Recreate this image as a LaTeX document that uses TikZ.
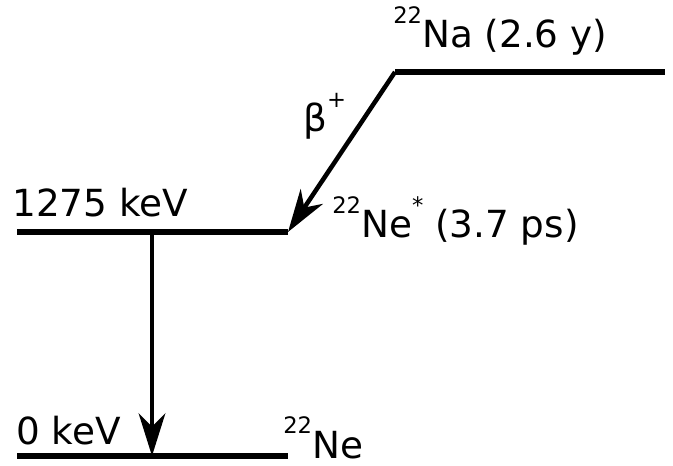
\documentclass[tikz,border=0pt]{standalone}
\usepackage{fontspec}
\setmainfont{DejaVu Sans}
\usetikzlibrary{arrows.meta}

\newcommand{\sups}[1]{\raisebox{0.66em}{\fontsize{17}{17}\selectfont #1}}

\begin{document}
\begin{tikzpicture}[x=0.75pt, y=-0.75pt,
    level/.style={line width=4.5pt},
    trans/.style={line width=3.4pt, -{Stealth[length=32pt, width=20pt, inset=10pt]}},
    lbl/.style={anchor=base west, inner sep=0pt, font=\fontsize{28}{33}\selectfont}]
    \useasboundingbox (0,0) rectangle (673,466);
    % level ends
    \coordinate (naL) at (395,72);
    \coordinate (naR) at (665,72);
    \coordinate (exL) at (17,232);
    \coordinate (exR) at (288,232);
    \coordinate (gsL) at (17,456);
    \coordinate (gsR) at (288,456);
    \coordinate (gTop) at (152,232);
    \coordinate (gBot) at (152,456);
    \draw[level] (naL) -- (naR);
    \draw[level] (exL) -- (exR);
    \draw[level] (gsL) -- (gsR);
    \draw[trans] (naL) -- (exR);
    \draw[trans] (gTop) -- (gBot);
    % labels
    \node[lbl] (naLbl) at (393,48) {\sups{22}Na (2.6 y)};
    \node[lbl] (beta) at (303,132) {β\sups{+}};
    \node[lbl] (exE) at (12,217) {1275 keV};
    \node[lbl] (exLbl) at (332,238) {\sups{22}Ne\sups{*} (3.7 ps)};
    \node[lbl] (gsE) at (16,444) {0 keV};
    \node[lbl] (gsLbl) at (283,458) {\sups{22}Ne};
\end{tikzpicture}
\end{document}
